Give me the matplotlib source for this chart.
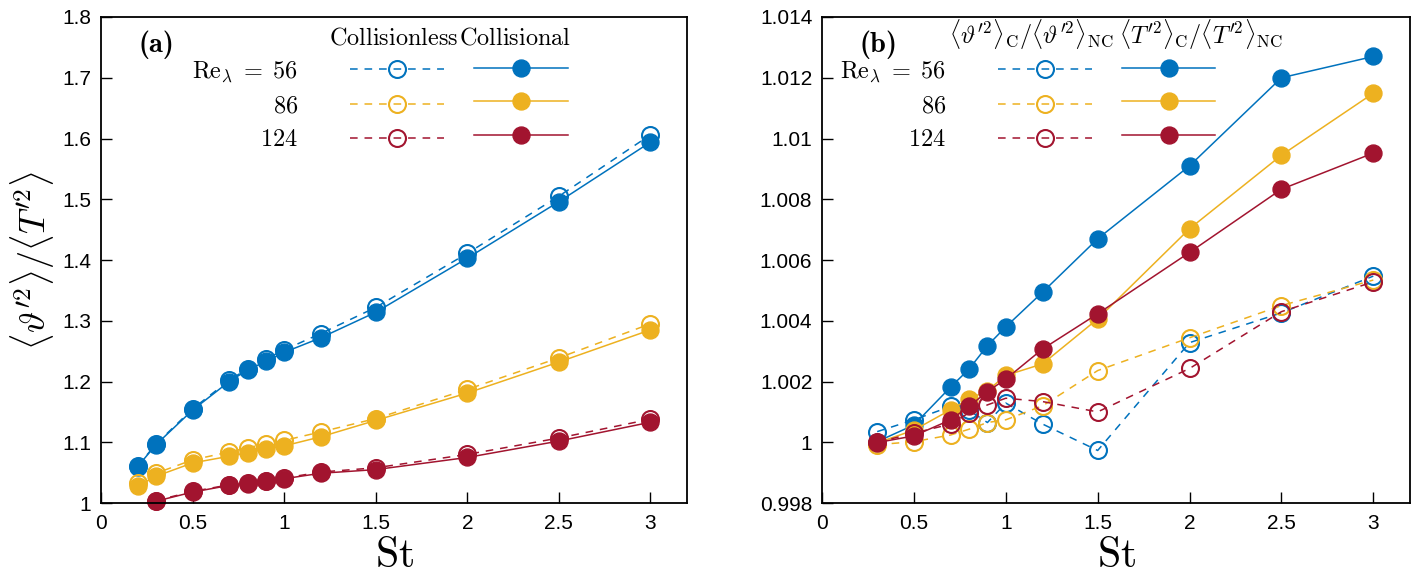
import matplotlib
matplotlib.use("Agg")
import matplotlib.pyplot as plt
from matplotlib.lines import Line2D

# ---------------- data ----------------
St_a_low = [0.2, 0.3, 0.5, 0.7, 0.8, 0.9, 1.0, 1.2, 1.5, 2.0, 2.5, 3.0]
St_a_124 = [0.3, 0.5, 0.7, 0.8, 0.9, 1.0, 1.2, 1.5, 2.0, 2.5, 3.0]

a56_C  = [1.060, 1.096, 1.153, 1.200, 1.219, 1.233, 1.248, 1.272, 1.314, 1.403, 1.496, 1.594]
a56_NC = [1.061, 1.097, 1.155, 1.202, 1.221, 1.237, 1.252, 1.279, 1.322, 1.411, 1.505, 1.606]
a86_C  = [1.028, 1.044, 1.066, 1.077, 1.083, 1.089, 1.094, 1.109, 1.136, 1.181, 1.232, 1.285]
a86_NC = [1.033, 1.049, 1.071, 1.084, 1.091, 1.097, 1.103, 1.117, 1.139, 1.187, 1.239, 1.295]
a124_C  = [1.003, 1.018, 1.029, 1.032, 1.036, 1.040, 1.049, 1.055, 1.075, 1.102, 1.133]
a124_NC = [1.004, 1.019, 1.030, 1.033, 1.037, 1.041, 1.051, 1.058, 1.080, 1.107, 1.138]

St_b = [0.3, 0.5, 0.7, 0.8, 0.9, 1.0, 1.2, 1.5, 2.0, 2.5, 3.0]
b56_C   = [1.00002, 1.00057, 1.00182, 1.00241, 1.00318, 1.00380, 1.00494, 1.00670, 1.00910, 1.01200, 1.01270]
b56_NC  = [1.00035, 1.00074, 1.00118, 1.00105, 1.00065, 1.00129, 1.00060, 0.99973, 1.00328, 1.00426, 1.00547]
b86_C   = [0.99998, 1.00040, 1.00107, 1.00142, 1.00170, 1.00220, 1.00258, 1.00406, 1.00703, 1.00945, 1.01149]
b86_NC  = [0.99992, 1.00002, 1.00024, 1.00043, 1.00065, 1.00074, 1.00120, 1.00236, 1.00344, 1.00450, 1.00534]
b124_C  = [0.99999, 1.00021, 1.00074, 1.00118, 1.00167, 1.00208, 1.00307, 1.00423, 1.00625, 1.00833, 1.00952]
b124_NC = [1.00000, 1.00030, 1.00060, 1.00097, 1.00123, 1.00145, 1.00134, 1.00100, 1.00243, 1.00430, 1.00528]

re_labels = [r'$\mathrm{Re}_\lambda\;=\;56$', r'$86$', r'$124$']
colors = ['#0072BD', '#EDB120', '#A2142F']

a_xticks = [0, 0.5, 1, 1.5, 2, 2.5, 3]
a_xticklabels = ['0', '0.5', '1', '1.5', '2', '2.5', '3']
a_yticks = [1, 1.1, 1.2, 1.3, 1.4, 1.5, 1.6, 1.7, 1.8]
a_yticklabels = ['1', '1.1', '1.2', '1.3', '1.4', '1.5', '1.6', '1.7', '1.8']
b_yticks = [0.998, 1.0, 1.002, 1.004, 1.006, 1.008, 1.01, 1.012, 1.014]
b_yticklabels = ['0.998', '1', '1.002', '1.004', '1.006', '1.008', '1.01', '1.012', '1.014']

# ---------------- style ----------------
plt.rcParams['mathtext.fontset'] = 'cm'
plt.rcParams['font.family'] = ['Liberation Sans', 'DejaVu Sans']

LW = 1.1
MS = 12.2
DASH = (5, 4.5)
LEG_FS = 17.5

fig = plt.figure(figsize=(14.21, 5.82), dpi=100)
axA = fig.add_axes([0.0711, 0.1357, 0.4124, 0.8351])
axB = fig.add_axes([0.5785, 0.1357, 0.4138, 0.8351])

def style_axis(ax, yticks, yticklabels, ylim):
    ax.set_xlim(0, 3.2)
    ax.set_ylim(*ylim)
    ax.set_xticks(a_xticks)
    ax.set_xticklabels(a_xticklabels)
    ax.set_yticks(yticks)
    ax.set_yticklabels(yticklabels)
    ax.tick_params(direction='in', length=8, width=1.0, labelsize=15)
    ax.tick_params(axis='x', pad=8)
    ax.tick_params(axis='y', pad=7)
    for s in ax.spines.values():
        s.set_linewidth(1.3)
    ax.set_xlabel(r'$\mathrm{St}$', fontsize=30, labelpad=2)

def plot_pair(ax, x, nc, c, col, clip=True):
    ax.plot(x, nc, ls=(0, DASH), lw=LW, color=col, marker='o', ms=MS,
            mfc='none', mec=col, mew=1.5, clip_on=clip)
    ax.plot(x, c, ls='-', lw=LW, color=col, marker='o', ms=MS,
            mfc=col, mec=col, clip_on=clip)

# ---------------- panel (a) ----------------
plot_pair(axA, St_a_low, a56_NC, a56_C, colors[0])
plot_pair(axA, St_a_low, a86_NC, a86_C, colors[1])
plot_pair(axA, St_a_124, a124_NC, a124_C, colors[2], clip=False)
style_axis(axA, a_yticks, a_yticklabels, (1.0, 1.8))
axA.set_ylabel(r'$\langle \vartheta^{\prime 2}\rangle / \langle T^{\prime 2}\rangle$',
               fontsize=26, labelpad=4)

# ---------------- panel (b) ----------------
plot_pair(axB, St_b, b56_NC, b56_C, colors[0])
plot_pair(axB, St_b, b86_NC, b86_C, colors[1])
plot_pair(axB, St_b, b124_NC, b124_C, colors[2])
style_axis(axB, b_yticks, b_yticklabels, (0.998, 1.014))

# ---------------- legends ----------------
def add_legends(ax, x_nc_right, x_c_left, y_top, headers, hx, hy, tag):
    nc_h = [Line2D([], [], ls=(0, DASH), lw=LW, color=c, marker='o', ms=MS,
                   mfc='none', mec=c, mew=1.5) for c in colors]
    c_h = [Line2D([], [], ls='-', lw=LW, color=c, marker='o', ms=MS,
                  mfc=c, mec=c) for c in colors]
    common = dict(frameon=False, handlelength=3.85, borderpad=0, borderaxespad=0,
                  labelspacing=0.47, fontsize=LEG_FS, numpoints=1)
    l1 = ax.legend(nc_h, re_labels, loc='upper right', bbox_to_anchor=(x_nc_right, y_top),
                   markerfirst=False, handletextpad=2.15, **common)
    ax.add_artist(l1)
    ax.legend(c_h, ['', '', ''], loc='upper left', bbox_to_anchor=(x_c_left, y_top),
              markerfirst=True, handletextpad=0, **common)
    for h, x in zip(headers, hx):
        ax.text(x, hy, h, transform=ax.transAxes, ha='center', va='baseline',
                fontsize=LEG_FS)
    ax.text(0.064, 0.928, tag, transform=ax.transAxes, ha='left', va='baseline',
            fontsize=20.5, family='cmb10')

add_legends(axA, 0.5853, 0.6365, 0.913,
            [r'$\mathrm{Collisionless}$', r'$\mathrm{Collisional}$'],
            [0.500, 0.7065], 0.9444, '(a)')
add_legends(axB, 0.4587, 0.5097, 0.913,
            [r'$\langle\vartheta^{\prime 2}\rangle_{\mathrm{C}}/\langle\vartheta^{\prime 2}\rangle_{\mathrm{NC}}$',
             r'$\langle T^{\prime 2}\rangle_{\mathrm{C}}/\langle T^{\prime 2}\rangle_{\mathrm{NC}}$'],
            [0.3554, 0.6446], 0.9444, '(b)')

fig.savefig('out.png', dpi=100)
